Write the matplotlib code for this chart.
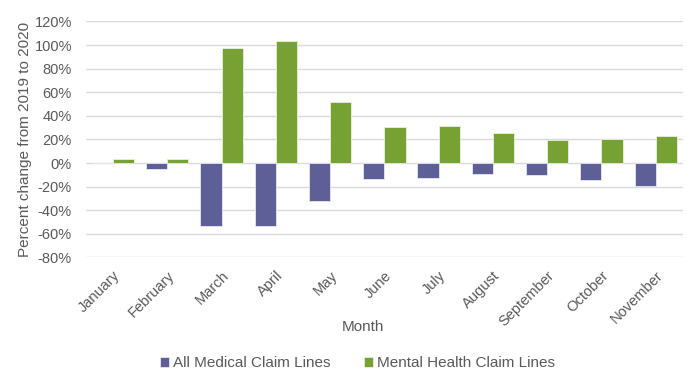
import matplotlib
matplotlib.use("Agg")
import matplotlib.pyplot as plt
import numpy as np

months = ["January", "February", "March", "April", "May", "June", "July",
          "August", "September", "October", "November"]
all_medical = [-0.3, -4.8, -53.0, -53.0, -32.0, -13.8, -13.0, -9.3, -10.2, -14.4, -19.7]
mental_health = [3.5, 3.5, 97.5, 103.5, 52.0, 30.8, 31.4, 25.2, 19.5, 20.7, 22.6]
yticks = list(range(-80, 121, 20))

plt.rcParams["font.family"] = ["Liberation Sans", "DejaVu Sans"]
text_color = "#595959"

fig = plt.figure(figsize=(6.87, 3.77), dpi=100)
ax = fig.add_axes([0.125, 0.317, 0.869, 0.626])

x = np.arange(len(months))
w = 0.39
ax.bar(x - w / 2, all_medical, width=w, color="#5F5F97", edgecolor="#E8E8F0",
       linewidth=0.6, label="All Medical Claim Lines", zorder=3)
ax.bar(x + w / 2, mental_health, width=w, color="#77A233", edgecolor="#E8F0E0",
       linewidth=0.6, label="Mental Health Claim Lines", zorder=3)

ax.set_xlim(-0.5, len(months) - 0.5)
ax.set_ylim(-80, 120)
ax.set_yticks(yticks)
ax.set_yticklabels([f"{v}%" for v in yticks])
ax.yaxis.grid(True, color="#D9D9D9", linewidth=1.0, zorder=0)
ax.set_axisbelow(True)
for s in ax.spines.values():
    s.set_visible(False)
ax.tick_params(axis="y", length=0, colors=text_color, labelsize=10.5, pad=10)
ax.tick_params(axis="x", length=0, colors=text_color, labelsize=10.5, pad=8)
ax.set_xticks(x)
ax.set_xticklabels(months, rotation=45, ha="right", rotation_mode="anchor")

ax.set_ylabel("Percent change from 2019 to 2020", color=text_color, fontsize=11,
              labelpad=2)
fig.text(0.528, 1 - 327 / 377, "Month", color=text_color, fontsize=11,
         ha="center", va="center")

leg = fig.legend(loc="center", bbox_to_anchor=(0.52, 0.037), ncol=2, frameon=False,
                 fontsize=11, handlelength=0.6, handleheight=0.6, handletextpad=0.25,
                 columnspacing=2.2)
for t in leg.get_texts():
    t.set_color(text_color)

fig.savefig("out.png", dpi=100)
